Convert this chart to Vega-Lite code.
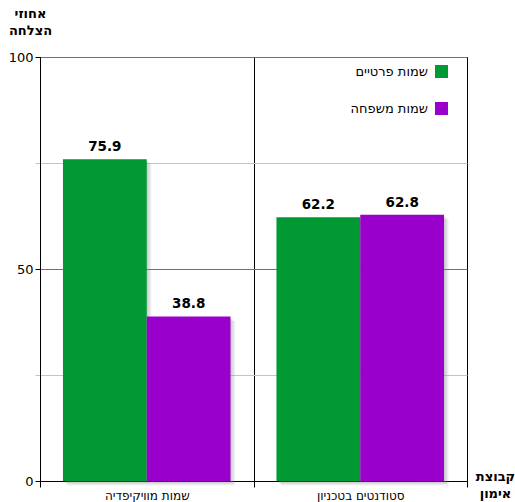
{
  "$schema": "https://vega.github.io/schema/vega-lite/v6.json",
  "width": 427,
  "height": 424,
  "autosize": "none",
  "padding": {"left": 40, "top": 57, "right": 48, "bottom": 21},
  "background": "white",
  "config": {
    "font": "DejaVu Sans",
    "view": {"stroke": "black", "strokeWidth": 1},
    "axis": {"labelColor": "black", "titleColor": "black"}
  },
  "data": {
    "values": [
      {"group": "שמות מוויקיפדיה", "series": "שמות פרטיים", "value": 75.9},
      {"group": "שמות מוויקיפדיה", "series": "שמות משפחה", "value": 38.8},
      {"group": "סטודנטים בטכניון", "series": "שמות פרטיים", "value": 62.2},
      {"group": "סטודנטים בטכניון", "series": "שמות משפחה", "value": 62.8}
    ]
  },
  "encoding": {
    "x": {
      "field": "group",
      "type": "nominal",
      "sort": ["שמות מוויקיפדיה", "סטודנטים בטכניון"],
      "scale": {"paddingInner": 0, "paddingOuter": 0},
      "axis": {
        "title": ["קבוצת", "אימון"],
        "titleX": 455,
        "titleY": -11,
        "titleAlign": "center",
        "titleBaseline": "top",
        "titleFontSize": 13,
        "titleFontWeight": "bold",
        "titleLineHeight": 17,
        "labelAngle": 0,
        "labelFontSize": 12,
        "labelPadding": 3,
        "tickBand": "extent",
        "tickSize": 6,
        "tickColor": "black",
        "domainColor": "black",
        "grid": true,
        "gridColor": "black"
      }
    },
    "y": {
      "field": "value",
      "type": "quantitative",
      "scale": {"domain": [0, 100], "nice": false},
      "axis": {
        "title": ["אחוזי", "הצלחה"],
        "titleAngle": 0,
        "titleX": -10,
        "titleY": -50,
        "titleAlign": "center",
        "titleBaseline": "top",
        "titleFontSize": 13,
        "titleFontWeight": "bold",
        "titleLineHeight": 17,
        "values": [0, 25, 50, 75, 100],
        "labelExpr": "datum.value % 50 === 0 ? datum.label : ''",
        "labelFontSize": 13,
        "labelPadding": 2,
        "tickSize": 5,
        "tickColor": {"condition": {"test": "datum.value === 25 || datum.value === 75", "value": "#c4c4c4"}, "value": "black"},
        "domainColor": "black",
        "grid": true,
        "gridColor": {"condition": {"test": "datum.value === 25 || datum.value === 75", "value": "#c4c4c4"}, "value": "#707070"}
      }
    }
  },
  "resolve": {"scale": {"xOffset": "independent"}},
  "layer": [
    {
      "mark": {"type": "bar", "color": "#888888", "opacity": 0.15, "yOffset": 2},
      "encoding": {"xOffset": {"field": "series", "type": "nominal", "sort": ["שמות פרטיים", "שמות משפחה"], "scale": {"paddingInner": 0, "paddingOuter": 0.274, "align": 0.533}}}
    },
    {
      "mark": {"type": "bar", "color": "#888888", "opacity": 0.15, "yOffset": 3},
      "encoding": {"xOffset": {"field": "series", "type": "nominal", "sort": ["שמות פרטיים", "שמות משפחה"], "scale": {"paddingInner": 0, "paddingOuter": 0.274, "align": 0.565}}}
    },
    {
      "mark": {"type": "bar", "color": "#888888", "opacity": 0.15, "yOffset": 4.5},
      "encoding": {"xOffset": {"field": "series", "type": "nominal", "sort": ["שמות פרטיים", "שמות משפחה"], "scale": {"paddingInner": 0, "paddingOuter": 0.274, "align": 0.598}}}
    },
    {
      "mark": {"type": "bar"},
      "encoding": {
        "xOffset": {"field": "series", "type": "nominal", "sort": ["שמות פרטיים", "שמות משפחה"], "scale": {"paddingInner": 0, "paddingOuter": 0.274}},
        "color": {
          "field": "series",
          "type": "nominal",
          "scale": {"domain": ["שמות פרטיים", "שמות משפחה"], "range": ["#009933", "#9900cc"]},
          "legend": {
            "orient": "none",
            "legendX": 395,
            "legendY": 8,
            "title": null,
            "symbolType": "square",
            "symbolSize": 169,
            "symbolStrokeWidth": 0,
            "labelAlign": "right",
            "labelOffset": -20,
            "labelFontSize": 13,
            "labelColor": "black",
            "rowPadding": 23
          }
        }
      }
    },
    {
      "mark": {"type": "text", "dy": -12, "fontWeight": "bold", "fontSize": 13.5, "color": "black"},
      "encoding": {
        "xOffset": {"field": "series", "type": "nominal", "sort": ["שמות פרטיים", "שמות משפחה"], "bandPosition": 0.5, "scale": {"type": "band", "paddingInner": 0, "paddingOuter": 0.274}},
        "text": {"field": "value", "type": "quantitative", "format": ".1f"}
      }
    }
  ]
}
